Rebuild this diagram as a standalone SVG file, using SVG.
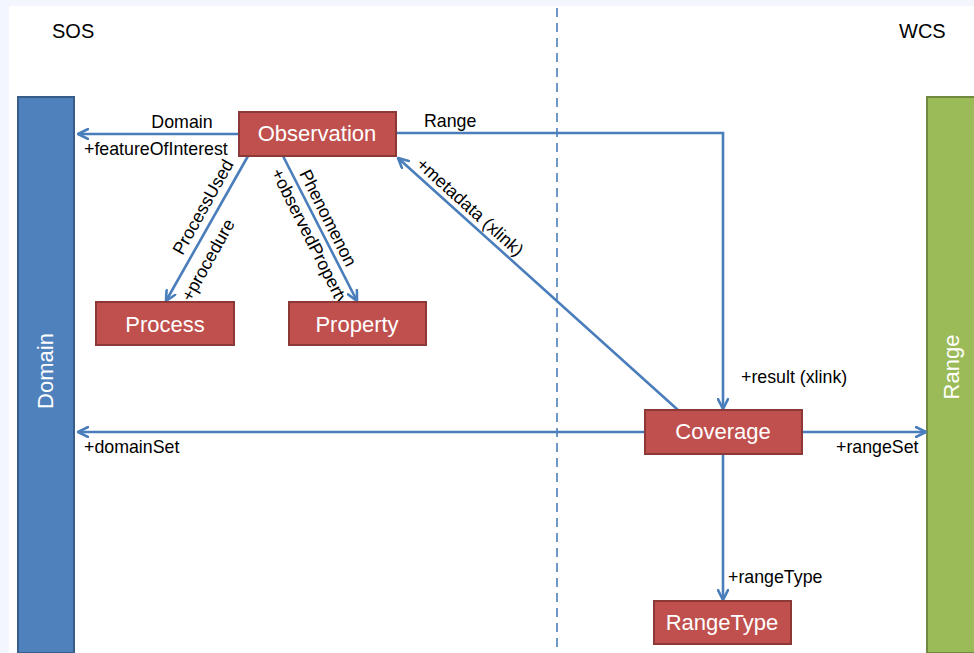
<svg xmlns="http://www.w3.org/2000/svg" width="974" height="653" viewBox="0 0 974 653">
  <defs>
    <marker id="arr" viewBox="0 0 12 12" refX="11" refY="6" markerWidth="12" markerHeight="12" markerUnits="userSpaceOnUse" orient="auto">
      <path d="M1,1 L11,6 L1,11" fill="none" stroke="#4A7EBB" stroke-width="2.6" stroke-linecap="round" stroke-linejoin="miter"/>
    </marker>
  </defs>
  <style>
    .node rect { fill: #C0504D; stroke: #8C3836; stroke-width: 2; }
    .ntext { font-family: "Liberation Sans", Arial, sans-serif; font-size: 22px; fill: #FFFFFF; text-anchor: middle; }
    .lbl { font-family: "Liberation Sans", Arial, sans-serif; font-size: 17.8px; fill: #000000; }
    .title { font-family: "Liberation Sans", Arial, sans-serif; font-size: 20px; fill: #000000; }
    .conn { fill: none; stroke: #4A7EBB; stroke-width: 2.6; }
  </style>
  <rect x="0" y="0" width="974" height="653" fill="#F3F7FD"/>
  <rect x="9" y="6" width="965" height="647" fill="#FFFFFF"/>

  <text class="title" x="52" y="38">SOS</text>
  <text class="title" x="899" y="38">WCS</text>

  <line x1="557" y1="8" x2="557" y2="653" stroke="#4A7EBB" stroke-width="1.6" stroke-dasharray="9 6"/>

  <g id="domain">
    <rect x="18" y="97" width="56" height="556" fill="#4F81BD" stroke="#385D8A" stroke-width="2"/>
    <text class="ntext" transform="translate(53,371) rotate(-90)">Domain</text>
  </g>
  <g id="range">
    <rect x="927" y="97" width="52" height="556" fill="#9BBB59" stroke="#71893F" stroke-width="2"/>
    <text class="ntext" transform="translate(959,367) rotate(-90)">Range</text>
  </g>

  <g id="connectors">
    <line class="conn" x1="238" y1="134" x2="78" y2="134" marker-end="url(#arr)"/>
    <polyline class="conn" points="396,133 723,133 723,409" marker-end="url(#arr)"/>
    <line class="conn" x1="678" y1="410" x2="398" y2="158" marker-end="url(#arr)"/>
    <line class="conn" x1="248" y1="156" x2="166" y2="301" marker-end="url(#arr)"/>
    <line class="conn" x1="283" y1="156" x2="357" y2="301" marker-end="url(#arr)"/>
    <line class="conn" x1="644" y1="432" x2="78" y2="432" marker-end="url(#arr)"/>
    <line class="conn" x1="802" y1="432" x2="926" y2="432" marker-end="url(#arr)"/>
    <line class="conn" x1="723" y1="454" x2="723" y2="600" marker-end="url(#arr)"/>

    <text class="lbl" x="182" y="128" text-anchor="middle">Domain</text>
    <text class="lbl" x="84" y="155">+featureOfInterest</text>
    <text class="lbl" x="424" y="127">Range</text>
    <text class="lbl" x="741" y="383">+result (xlink)</text>
    <text class="lbl" x="84" y="453">+domainSet</text>
    <text class="lbl" x="836" y="453">+rangeSet</text>
    <text class="lbl" x="728" y="583">+rangeType</text>
    <text class="lbl" text-anchor="middle" transform="translate(203,207) rotate(-60.8)" y="6">ProcessUsed</text>
    <text class="lbl" text-anchor="middle" transform="translate(208,260) rotate(-60.8)" y="6">+procedure</text>
    <text class="lbl" text-anchor="middle" transform="translate(328,218) rotate(63.3)" y="6">Phenomenon</text>
    <text class="lbl" text-anchor="middle" transform="translate(310,237) rotate(63.3)" y="6">+observedProperty</text>
    <text class="lbl" text-anchor="middle" transform="translate(470,207) rotate(42)" y="6">+metadata (xlink)</text>
  </g>

  <g id="observation" class="node">
    <rect x="239" y="112" width="157" height="44"/>
    <text class="ntext" x="317" y="141">Observation</text>
  </g>
  <g id="process" class="node">
    <rect x="96" y="302" width="138" height="43"/>
    <text class="ntext" x="165" y="332">Process</text>
  </g>
  <g id="property" class="node">
    <rect x="289" y="302" width="137" height="43"/>
    <text class="ntext" x="357" y="332">Property</text>
  </g>
  <g id="coverage" class="node">
    <rect x="645" y="410" width="157" height="44"/>
    <text class="ntext" x="723" y="439">Coverage</text>
  </g>
  <g id="rangetype" class="node">
    <rect x="654" y="601" width="137" height="43"/>
    <text class="ntext" x="722" y="630">RangeType</text>
  </g>
</svg>
